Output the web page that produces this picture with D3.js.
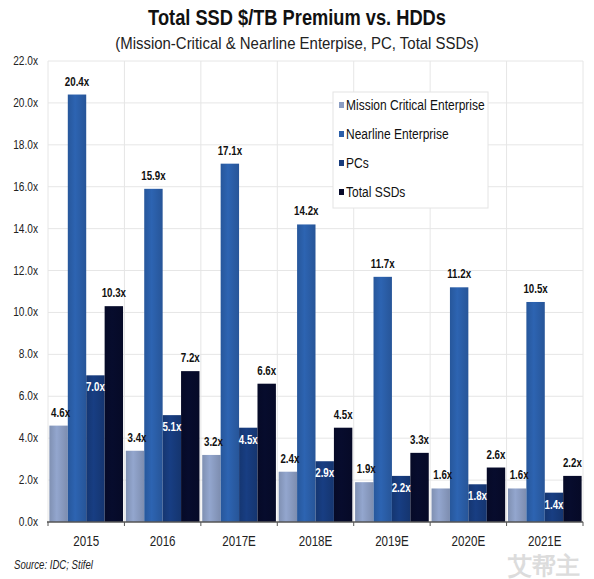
<!DOCTYPE html>
<html><head><meta charset="utf-8">
<script src="https://cdn.jsdelivr.net/npm/d3@7"></script>
<style>
body{margin:0;background:#fff;}
svg{display:block;}
text{font-family:"Liberation Sans Narrow","Liberation Sans",Arial,sans-serif;}
</style></head>
<body><svg id="c" width="594" height="579"></svg>
<script>
const categories = ["2015","2016","2017E","2018E","2019E","2020E","2021E"];
const seriesNames = ["Mission Critical Enterprise","Nearline Enterprise","PCs","Total SSDs"];
const missionCritical = [4.6,3.4,3.2,2.4,1.9,1.6,1.6];
const nearline = [20.4,15.9,17.1,14.2,11.7,11.2,10.5];
const pcs = [7.0,5.1,4.5,2.9,2.2,1.8,1.4];
const totalSSDs = [10.3,7.2,6.6,4.5,3.3,2.6,2.2];
const yTicks = [0,2,4,6,8,10,12,14,16,18,20,22];
const colors = ["#8b9dc3","#2b5fa9","#173b7c","#070b2b"];

const series = [missionCritical, nearline, pcs, totalSSDs];
const svg = d3.select("#c");
const m = {left:48, right:583, top:61, bottom:522};

// condensed text helper
function ctext(parent, px, py, str, o){
  const t = parent.append("text")
    .attr("transform",`translate(${px},${py}) scale(${o.sx||0.82},1)`)
    .attr("x",0).attr("y",0)
    .attr("text-anchor",o.anchor||"start")
    .attr("font-size",o.size||12)
    .attr("fill",o.fill||"#222")
    .text(str);
  if(o.bold) t.attr("font-weight","bold");
  if(o.italic) t.attr("font-style","italic");
  if(o.family) t.attr("font-family",o.family);
  return t;
}

const x = d3.scaleBand().domain(categories).range([m.left,m.right]).paddingInner(0).paddingOuter(0);
const x1 = d3.scaleBand().domain(d3.range(4)).range([0,x.bandwidth()]).paddingOuter(0.075).paddingInner(0);
const y = d3.scaleLinear().domain([0,22]).range([m.bottom,m.top]);

// gradients
const defs = svg.append("defs");
colors.forEach((c,i)=>{
  const g = defs.append("linearGradient").attr("id","g"+i).attr("x1","0").attr("x2","1").attr("y1","0").attr("y2","0");
  const col = d3.color(c);
  g.append("stop").attr("offset","0%").attr("stop-color",col.darker(0.25));
  g.append("stop").attr("offset","40%").attr("stop-color",col.brighter(0.15));
  g.append("stop").attr("offset","100%").attr("stop-color",col.darker(0.3));
});

// gridlines
svg.append("g").selectAll("line.h").data(yTicks.slice(1)).join("line")
  .attr("x1",m.left).attr("x2",m.right).attr("y1",d=>y(d)).attr("y2",d=>y(d))
  .attr("stroke","#e6e6e6").attr("stroke-width",1);
const bounds = categories.map(c=>x(c)).concat([m.right]);
svg.append("g").selectAll("line.v").data(bounds).join("line")
  .attr("x1",d=>d).attr("x2",d=>d).attr("y1",m.top).attr("y2",m.bottom)
  .attr("stroke","#e6e6e6").attr("stroke-width",1);

// y axis labels
const ya = svg.append("g");
yTicks.forEach(d=>ctext(ya,38,y(d)+4,d.toFixed(1)+"x",{anchor:"end",size:13,sx:0.78,fill:"#222"}));

// bars
const bg = svg.append("g");
categories.forEach((cat,ci)=>{
  series.forEach((s,si)=>{
    const bx = x(cat)+x1(si), bw = x1.bandwidth(), v = s[ci];
    bg.append("rect").attr("x",bx).attr("y",y(v)).attr("width",bw).attr("height",y(0)-y(v))
      .attr("fill","url(#g"+si+")");
  });
});
const lbl = svg.append("g");
categories.forEach((cat,ci)=>{
  series.forEach((s,si)=>{
    const bx = x(cat)+x1(si), bw = x1.bandwidth(), v = s[ci];
    const inside = si===2;
    ctext(lbl, bx+bw/2+(si===0?2:0), inside? y(v)+16 : y(v)-9, v.toFixed(1)+"x",
      {anchor:"middle",size:12.5,bold:true,sx:0.78,fill:inside?"#fff":"#111"});
  });
});

// x axis
svg.append("line").attr("x1",m.left-1).attr("x2",m.right).attr("y1",m.bottom).attr("y2",m.bottom)
  .attr("stroke","#555").attr("stroke-width",1.5);
svg.append("g").selectAll("line").data(bounds).join("line")
  .attr("x1",d=>d).attr("x2",d=>d).attr("y1",m.bottom).attr("y2",m.bottom+4).attr("stroke","#555");
const xa = svg.append("g");
categories.forEach(d=>ctext(xa,x(d)+x.bandwidth()/2,546,d,{anchor:"middle",size:14.5,sx:0.8,fill:"#222"}));

// title
ctext(svg,297,25,"Total SSD $/TB Premium vs. HDDs",{anchor:"middle",size:22,bold:true,sx:0.83,fill:"#111"});
ctext(svg,297,49,"(Mission-Critical & Nearline Enterpise, PC, Total SSDs)",{anchor:"middle",size:17,sx:0.88,fill:"#222"});

// legend
const lg = svg.append("g");
lg.append("rect").attr("x",333).attr("y",92).attr("width",155).attr("height",116)
  .attr("fill","#fff").attr("stroke","#e4e4e4");
seriesNames.forEach((n,i)=>{
  const ly = 107 + i*29;
  lg.append("rect").attr("x",339).attr("y",ly-5).attr("width",5).attr("height",6).attr("fill",colors[i]);
  ctext(lg,346,ly+3,n,{size:15,sx:0.8,fill:"#111"});
});

// source
ctext(svg,14,569,"Source: IDC; Stifel",{size:12,italic:true,sx:0.8,fill:"#222"});
// watermark
svg.append("text").attr("x",508).attr("y",574).attr("font-size",24).attr("font-weight","bold")
  .attr("font-family","Noto Sans CJK SC").attr("fill","#d6d6d6").attr("opacity",0.85).text("艾帮主");
</script></body></html>
